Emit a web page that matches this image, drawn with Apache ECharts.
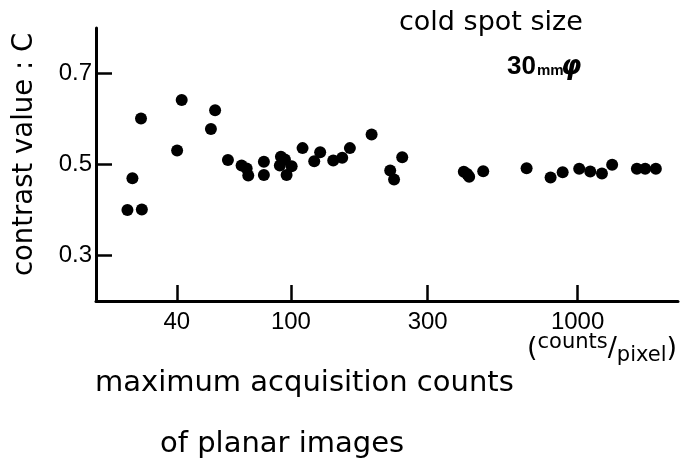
<!DOCTYPE html>
<html><head><meta charset="utf-8">
<script src="https://cdn.jsdelivr.net/npm/echarts@6/dist/echarts.min.js"></script>
<style>html,body{margin:0;padding:0;background:#fff}#c{width:687px;height:461px}</style>
</head><body><div id="c"></div>
<script>
const countsPerPixel = [26.9, 30.2, 28.0, 30.0, 40.1, 41.6, 52.6, 54.4, 60.3,
  67.3, 70.1, 71.0, 80.5, 80.5, 92.3, 95.3, 91.5, 96.6, 100.6,
  109.8, 120.6, 126.5, 140.5, 151, 160.6, 191.2, 222, 229, 244.5,
  401, 412, 418.6, 468.6, 664, 805, 887, 1013, 1107, 1216, 1320, 1610, 1721, 1875];
const contrastValues = [0.400, 0.401, 0.470, 0.601, 0.531, 0.642, 0.578, 0.619, 0.510,
  0.498, 0.491, 0.476, 0.506, 0.477, 0.517, 0.511, 0.498, 0.477, 0.496,
  0.536, 0.507, 0.527, 0.509, 0.515, 0.536, 0.566, 0.487, 0.467, 0.516,
  0.484, 0.479, 0.473, 0.485, 0.492, 0.4715, 0.483, 0.4905, 0.4847, 0.480, 0.4993, 0.4905, 0.4905, 0.4905];
const xTickValues = [40, 100, 300, 1000];
const yTickValues = [0.3, 0.5, 0.7];

const points = countsPerPixel.map((x, i) => [x, contrastValues[i]]);
const chart = echarts.init(document.getElementById('c'), null, {renderer: 'canvas'});
const axisFont = '"Liberation Sans", Arial, sans-serif';
const titleFont = '"DejaVu Sans", sans-serif';
chart.setOption({
  animation: false,
  backgroundColor: '#fff',
  grid: {left: 96, right: 9, top: 28, bottom: 160},
  xAxis: {
    type: 'log', min: 20.9, max: 2240,
    axisLine: {lineStyle: {color: '#000', width: 3}},
    axisTick: {show: true, inside: true, length: 16, lineStyle: {color: '#000', width: 2.5}, customValues: xTickValues},
    axisLabel: {customValues: xTickValues, color: '#000', fontSize: 24, fontFamily: axisFont, margin: 9,
      formatter: v => String(Math.round(v))},
    splitLine: {show: false}, minorTick: {show: false}
  },
  yAxis: {
    type: 'value', min: 0.2, max: 0.8,
    axisLine: {show: true, lineStyle: {color: '#000', width: 3}},
    axisTick: {show: true, inside: true, length: 16, lineStyle: {color: '#000', width: 2.5}, customValues: yTickValues},
    axisLabel: {customValues: yTickValues, color: '#000', fontSize: 24, fontFamily: axisFont, margin: 4,
      padding: [4, 0, 0, 0], formatter: v => v.toFixed(1)},
    splitLine: {show: false},
    name: 'contrast value : C', nameLocation: 'middle', nameRotate: 90, nameGap: 57,
    nameTextStyle: {color: '#000', fontSize: 27.5, fontFamily: titleFont, padding: [0, 0, 0, 20]}
  },
  series: [{
    type: 'scatter', data: points, symbol: 'circle', symbolSize: 12,
    itemStyle: {color: '#000', opacity: 1}
  }],
  graphic: [
    {type: 'text', left: 399, top: 9, style: {text: 'cold spot size', fill: '#000', font: '27px ' + titleFont}},
    {type: 'text', left: 507, top: 54, style: {text: '30', fill: '#000', font: 'bold 26px ' + axisFont}},
    {type: 'text', left: 537, top: 63, style: {text: 'mm', fill: '#000', font: 'bold 15px ' + axisFont}},
    {type: 'text', left: 561, top: 54, style: {text: 'φ', fill: '#000', font: 'italic bold 26px ' + titleFont}},
    {type: 'text', left: 95, top: 369, style: {text: 'maximum acquisition counts', fill: '#000', font: '29px ' + titleFont}},
    {type: 'text', left: 160, top: 430, style: {text: 'of planar images', fill: '#000', font: '29px ' + titleFont}},
    {type: 'text', left: 527, top: 332, style: {
      text: '{p|(}{s|counts}{p|/}{b|pixel}{p|)}',
      rich: {
        p: {fontSize: 27, fontFamily: titleFont, color: '#000'},
        s: {fontSize: 21, fontFamily: titleFont, color: '#000', verticalAlign: 'top', padding: [0, 0, 11, 0]},
        b: {fontSize: 21, fontFamily: titleFont, color: '#000', verticalAlign: 'bottom', padding: [13, 0, 0, 0]}
      }}}
  ]
});
</script></body></html>
